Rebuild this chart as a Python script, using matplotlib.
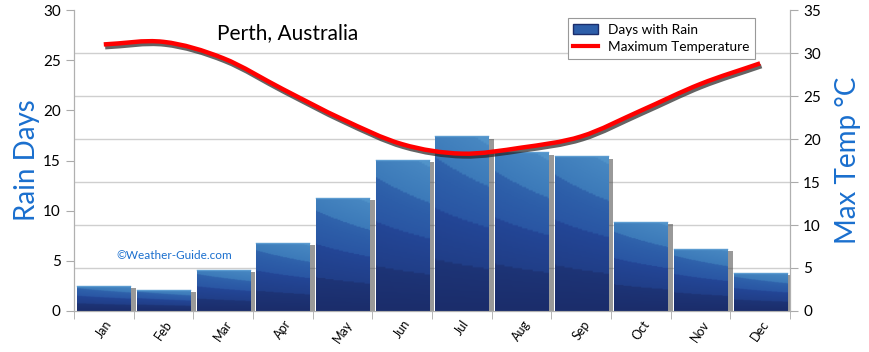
import numpy as np
import matplotlib
matplotlib.use("Agg")
import matplotlib.pyplot as plt
import matplotlib.patheffects as pe
from matplotlib.path import Path
from matplotlib.patches import PathPatch, Patch
from matplotlib.lines import Line2D
from matplotlib.colors import LinearSegmentedColormap

plt.rcParams['font.family'] = ['Lato', 'DejaVu Sans']

months = ["Jan", "Feb", "Mar", "Apr", "May", "Jun",
          "Jul", "Aug", "Sep", "Oct", "Nov", "Dec"]
rain_days = [2.5, 2.1, 4.1, 6.8, 11.3, 15.1, 17.4, 15.8, 15.4, 8.9, 6.2, 3.8]
max_temp = [31.0, 31.3, 29.4, 25.8, 22.3, 19.4, 18.3, 19.0, 20.3, 23.3, 26.4, 28.8]

blue = "#1a6fce"


def smooth_path(xs, ys):
    # catmull-rom through the monthly points, as bezier segments
    xs = np.asarray(xs, float)
    ys = np.asarray(ys, float)
    px = np.concatenate([[2 * xs[0] - xs[1]], xs, [2 * xs[-1] - xs[-2]]])
    py = np.concatenate([[2 * ys[0] - ys[1]], ys, [2 * ys[-1] - ys[-2]]])
    verts = [(xs[0], ys[0])]
    codes = [Path.MOVETO]
    for i in range(1, len(px) - 2):
        c1 = (px[i] + (px[i + 1] - px[i - 1]) / 6, py[i] + (py[i + 1] - py[i - 1]) / 6)
        c2 = (px[i + 1] - (px[i + 2] - px[i]) / 6, py[i + 1] - (py[i + 2] - py[i]) / 6)
        verts += [c1, c2, (px[i + 1], py[i + 1])]
        codes += [Path.CURVE4] * 3
    return Path(verts, codes)


fig = plt.figure(figsize=(8.7, 3.52), dpi=100)
ax = fig.add_axes([0.085, 0.1165, 0.823, 0.855])
ax2 = ax.twinx()

x = np.arange(len(months))

# grid follows the right axis ticks
ax.set_yticks(np.arange(0, 36, 5) * 30 / 35, minor=True)
ax.grid(True, which="minor", axis="y", color="#cfcfcf", lw=1)
ax.tick_params(axis="y", which="minor", length=0)
ax.set_axisbelow(True)

cmap = LinearSegmentedColormap.from_list(
    "bars", ["#1b2d6b", "#1f3a80", "#24489a", "#2d5ea9", "#3d7bba", "#5193c9"])

bars = ax.bar(x, rain_days, width=0.89, color="#24489a", zorder=2,
              path_effects=[pe.SimplePatchShadow(offset=(4, -1.5), shadow_rgbFace="#555555", alpha=0.6),
                            pe.Normal()])
for b in bars:
    bx, bw, bh = b.get_x(), b.get_width(), b.get_height()
    yy, xx = np.mgrid[0:1:100j, 0:1:40j]
    t = yy * 0.85 + xx * 0.2 * yy
    t = np.floor(t * 4) / 4 * 0.6 + t * 0.45
    im = ax.imshow(t, cmap=cmap, vmin=0, vmax=1, origin="lower", aspect="auto",
                   extent=(bx, bx + bw, 0, bh), zorder=3, interpolation="bilinear")
    im.set_clip_path(b)
    ax.plot([bx, bx + bw], [bh, bh], color="#5b9bd0", lw=1, zorder=4)
ax.set_xlim(-0.5, 11.5)
ax.set_ylim(0, 30)
ax2.set_ylim(0, 35)

# temperature line
tpath = smooth_path(x, max_temp)
ax2.add_patch(PathPatch(tpath, fill=False, edgecolor="#ff0000", lw=3.2, zorder=5,
                        path_effects=[pe.SimpleLineShadow(offset=(1, -2), shadow_color="#222222", alpha=0.7),
                                      pe.Normal()]))

ax.set_xticks(x)
ax.set_xticklabels(months, rotation=55, ha="center", va="top", fontsize=9)
ax.set_xticks(np.arange(-0.5, 12, 1), minor=True)
ax.tick_params(axis="x", which="major", length=0, pad=5)
ax.tick_params(axis="x", which="minor", length=6, color="#aaaaaa")
ax.set_yticks(np.arange(0, 31, 5))
ax.tick_params(axis="y", which="major", length=6, color="#aaaaaa", labelsize=11)
ax2.set_yticks(np.arange(0, 36, 5))
ax2.tick_params(axis="y", length=6, color="#aaaaaa", labelsize=11)

for a in (ax, ax2):
    for s in a.spines.values():
        s.set_color("#b0b0b0")
    a.spines["top"].set_visible(False)

ax.set_ylabel("Rain Days", color=blue, fontsize=20, labelpad=2)
ax2.set_ylabel("Max Temp °C", color=blue, fontsize=20, labelpad=10)

ax.text(0.2, 0.925, "Perth, Australia", transform=ax.transAxes, fontsize=15,
        ha="left", va="center", color="black")
ax.text(0.059, 0.185, "©Weather-Guide.com", transform=ax.transAxes, fontsize=8.5,
        ha="left", va="center", color=blue)

handles = [Patch(facecolor="#2d5ea9", edgecolor="#1b2d6b"),
           Line2D([], [], color="#ff0000", lw=3)]
leg = ax2.legend(handles, ["Days with Rain", "Maximum Temperature"], loc="upper left",
                 bbox_to_anchor=(0.680, 0.995), fontsize=9.8, fancybox=False,
                 framealpha=1, edgecolor="#999999", handlelength=1.8, borderpad=0.4,
                 labelspacing=0.4)
leg.get_frame().set_linewidth(0.8)

fig.savefig("out.png", dpi=100)
